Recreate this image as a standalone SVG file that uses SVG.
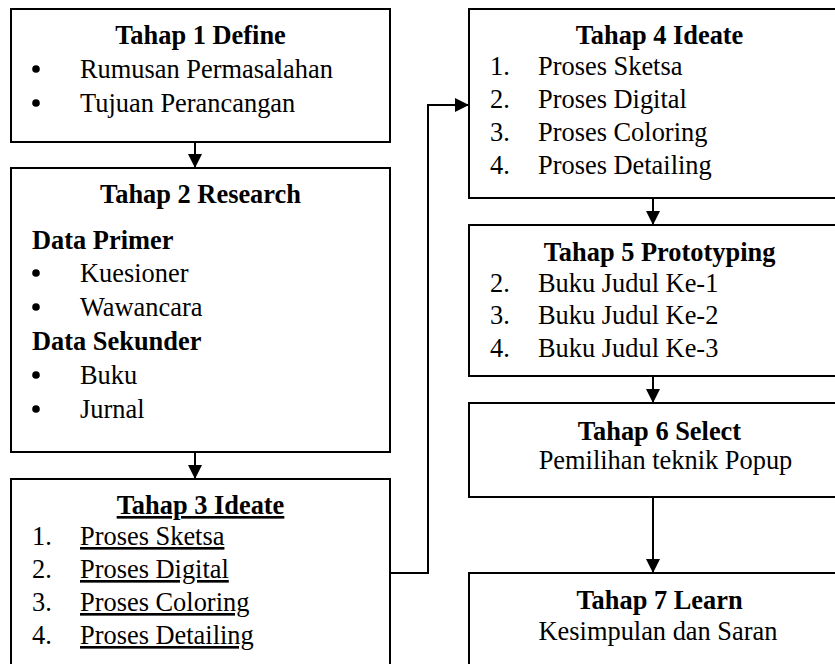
<svg xmlns="http://www.w3.org/2000/svg" width="835" height="664" viewBox="0 0 835 664">
<defs>
<marker id="ah" markerUnits="userSpaceOnUse" markerWidth="14" markerHeight="14" viewBox="0 0 14 14" refX="14" refY="7" orient="auto">
<path d="M0,0 L14,7 L0,14 Z" fill="#000"/>
</marker>
<style>
.box{fill:#fff;stroke:#000;stroke-width:2}
.t{font-family:"Liberation Serif","Times New Roman",serif;font-size:26.4px;fill:#000}
.b{font-weight:bold}
.c{text-anchor:middle}
.u{text-decoration:underline}
.ln{fill:none;stroke:#000;stroke-width:2;marker-end:url(#ah)}
.dot{fill:#000}
</style>
</defs>
<rect width="835" height="664" fill="#fff"/>
<g id="connectors">
<path class="ln" d="M195,142 V168"/>
<path class="ln" d="M195,452 V479"/>
<path class="ln" d="M653,198 V225"/>
<path class="ln" d="M653,376 V403"/>
<path class="ln" d="M653,497 V573"/>
<path class="ln" d="M390,573 H428 V105 H469"/>
</g>
<g id="tahap1">
<rect class="box" x="11" y="9" width="379" height="133"/>
<text class="t b c" x="200.5" y="44">Tahap 1 Define</text>
<circle class="dot" cx="36" cy="69" r="3.8"/><text class="t" x="80" y="78">Rumusan Permasalahan</text>
<circle class="dot" cx="36" cy="103" r="3.8"/><text class="t" x="80" y="112">Tujuan Perancangan</text>
</g>
<g id="tahap2">
<rect class="box" x="11" y="168" width="379" height="284"/>
<text class="t b c" x="200.5" y="203">Tahap 2 Research</text>
<text class="t b" x="32" y="249">Data Primer</text>
<circle class="dot" cx="36" cy="273" r="3.8"/><text class="t" x="80" y="282">Kuesioner</text>
<circle class="dot" cx="36" cy="307" r="3.8"/><text class="t" x="80" y="316">Wawancara</text>
<text class="t b" x="32" y="350">Data Sekunder</text>
<circle class="dot" cx="36" cy="375" r="3.8"/><text class="t" x="80" y="384">Buku</text>
<circle class="dot" cx="36" cy="409" r="3.8"/><text class="t" x="80" y="418">Jurnal</text>
</g>
<g id="tahap3">
<rect class="box" x="11" y="479" width="379" height="200"/>
<text class="t b c u" x="200.5" y="514">Tahap 3 Ideate</text>
<text class="t" x="32" y="545">1.</text><text class="t u" x="80" y="545">Proses Sketsa</text>
<text class="t" x="32" y="578">2.</text><text class="t u" x="80" y="578">Proses Digital</text>
<text class="t" x="32" y="611">3.</text><text class="t u" x="80" y="611">Proses Coloring</text>
<text class="t" x="32" y="644">4.</text><text class="t u" x="80" y="644">Proses Detailing</text>
</g>
<g id="tahap4">
<rect class="box" x="469" y="9" width="381" height="189"/>
<text class="t b c" x="659.5" y="44">Tahap 4 Ideate</text>
<text class="t" x="490" y="75">1.</text><text class="t" x="538" y="75">Proses Sketsa</text>
<text class="t" x="490" y="108">2.</text><text class="t" x="538" y="108">Proses Digital</text>
<text class="t" x="490" y="141">3.</text><text class="t" x="538" y="141">Proses Coloring</text>
<text class="t" x="490" y="174">4.</text><text class="t" x="538" y="174">Proses Detailing</text>
</g>
<g id="tahap5">
<rect class="box" x="469" y="225" width="381" height="151"/>
<text class="t b c" x="659.5" y="261">Tahap 5 Prototyping</text>
<text class="t" x="490" y="292">2.</text><text class="t" x="538" y="292">Buku Judul Ke-1</text>
<text class="t" x="490" y="324">3.</text><text class="t" x="538" y="324">Buku Judul Ke-2</text>
<text class="t" x="490" y="357">4.</text><text class="t" x="538" y="357">Buku Judul Ke-3</text>
</g>
<g id="tahap6">
<rect class="box" x="469" y="403" width="381" height="94"/>
<text class="t b c" x="659.5" y="440">Tahap 6 Select</text>
<text class="t c" x="665.5" y="469">Pemilihan teknik Popup</text>
</g>
<g id="tahap7">
<rect class="box" x="469" y="573" width="381" height="110"/>
<text class="t b c" x="659.5" y="609">Tahap 7 Learn</text>
<text class="t c" x="658" y="640">Kesimpulan dan Saran</text>
</g>
</svg>
